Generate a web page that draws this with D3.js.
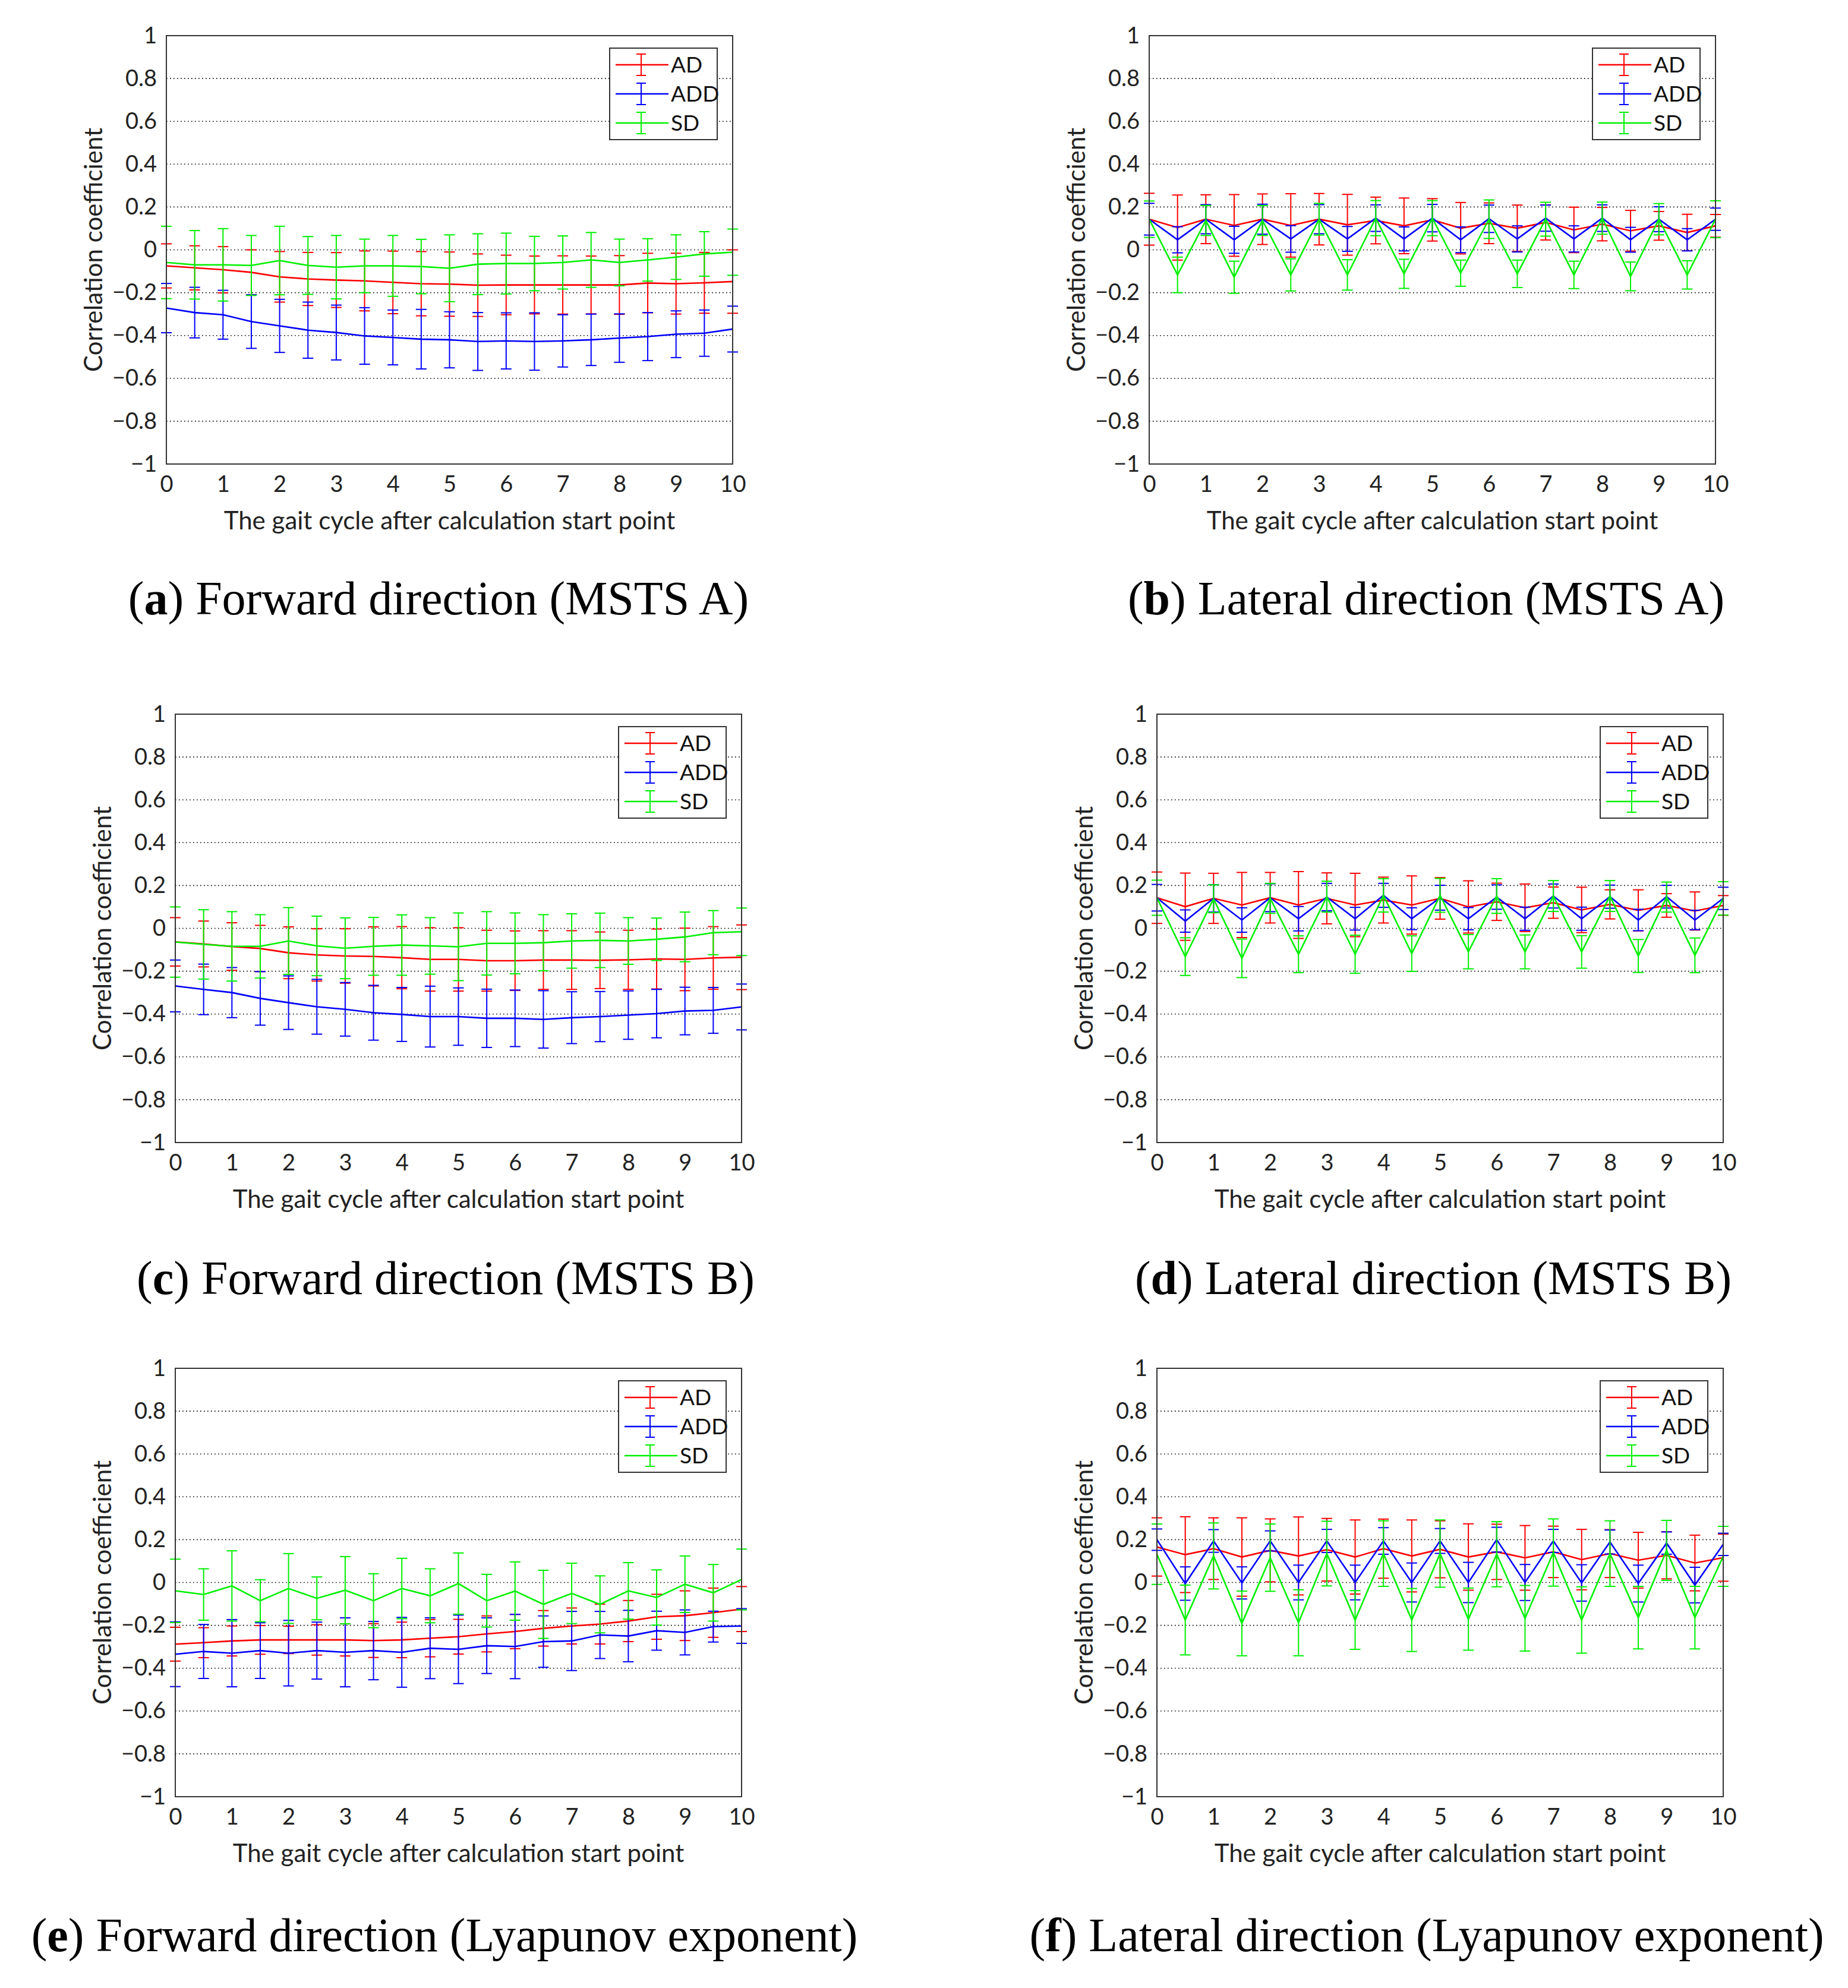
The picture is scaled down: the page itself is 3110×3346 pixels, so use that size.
<!DOCTYPE html>
<html><head><meta charset="utf-8">
<script src="https://cdn.jsdelivr.net/npm/d3@7"></script>
<style>body{margin:0;background:#fff}svg{display:block}</style>
</head><body>
<script>
const xVals = [0,0.5,1,1.5,2,2.5,3,3.5,4,4.5,5,5.5,6,6.5,7,7.5,8,8.5,9,9.5,10];
const xTicks = [0,1,2,3,4,5,6,7,8,9,10];
const yTicks = [-1,-0.8,-0.6,-0.4,-0.2,0,0.2,0.4,0.6,0.8,1];
const seriesNames = ["AD","ADD","SD"];
const seriesColors = ["#ff0000","#0000ff","#00f000"];
const xLabel = "The gait cycle after calculation start point";
const yLabel = "Correlation coefficient";

// Panel a
const aAD = [-0.075,-0.084,-0.093,-0.105,-0.126,-0.136,-0.141,-0.145,-0.152,-0.158,-0.16,-0.165,-0.164,-0.164,-0.164,-0.164,-0.164,-0.155,-0.158,-0.154,-0.148];
const aADerr = [0.103,0.103,0.108,0.105,0.118,0.124,0.128,0.14,0.146,0.15,0.15,0.146,0.139,0.135,0.136,0.135,0.137,0.139,0.142,0.142,0.148];
const aADD = [-0.272,-0.293,-0.303,-0.335,-0.355,-0.375,-0.386,-0.402,-0.409,-0.417,-0.42,-0.428,-0.425,-0.428,-0.425,-0.42,-0.412,-0.405,-0.394,-0.389,-0.37];
const aADDerr = [0.115,0.118,0.114,0.125,0.124,0.131,0.128,0.132,0.128,0.139,0.131,0.135,0.131,0.134,0.122,0.12,0.113,0.112,0.109,0.108,0.107];
const aSD = [-0.059,-0.07,-0.07,-0.073,-0.05,-0.073,-0.081,-0.075,-0.075,-0.078,-0.086,-0.067,-0.064,-0.064,-0.059,-0.047,-0.059,-0.047,-0.034,-0.019,-0.011];
const aSDerr = [0.169,0.16,0.169,0.14,0.16,0.135,0.148,0.125,0.142,0.127,0.156,0.142,0.142,0.127,0.124,0.128,0.109,0.099,0.104,0.104,0.108];

// Panel b
const bAD = [0.143,0.104,0.143,0.114,0.143,0.114,0.143,0.117,0.137,0.112,0.14,0.101,0.124,0.101,0.128,0.093,0.12,0.089,0.112,0.081,0.112];
const bADerr = [0.121,0.152,0.114,0.144,0.118,0.148,0.12,0.142,0.109,0.13,0.099,0.12,0.095,0.108,0.082,0.106,0.078,0.095,0.067,0.085,0.053];
const bADD = [0.143,0.047,0.143,0.047,0.143,0.051,0.143,0.051,0.148,0.051,0.148,0.047,0.145,0.051,0.148,0.051,0.148,0.047,0.143,0.047,0.143];
const bADDerr = [0.074,0.061,0.068,0.063,0.07,0.062,0.068,0.058,0.062,0.056,0.064,0.06,0.064,0.061,0.061,0.061,0.062,0.058,0.058,0.052,0.052];
const bSD = [0.143,-0.117,0.137,-0.128,0.137,-0.117,0.143,-0.117,0.148,-0.112,0.148,-0.109,0.143,-0.112,0.143,-0.117,0.148,-0.124,0.143,-0.117,0.143];
const bSDerr = [0.085,0.083,0.07,0.075,0.07,0.075,0.074,0.071,0.082,0.068,0.082,0.061,0.09,0.064,0.079,0.064,0.075,0.067,0.073,0.066,0.086];

// Panel c
const cAD = [-0.063,-0.073,-0.085,-0.094,-0.114,-0.124,-0.129,-0.131,-0.137,-0.145,-0.145,-0.151,-0.151,-0.148,-0.148,-0.149,-0.147,-0.143,-0.145,-0.138,-0.135];
const cADerr = [0.113,0.107,0.111,0.108,0.121,0.122,0.127,0.138,0.145,0.148,0.148,0.142,0.139,0.137,0.137,0.132,0.138,0.14,0.146,0.146,0.151];
const cADD = [-0.269,-0.285,-0.3,-0.327,-0.347,-0.366,-0.378,-0.394,-0.402,-0.412,-0.412,-0.42,-0.42,-0.425,-0.417,-0.412,-0.405,-0.398,-0.386,-0.383,-0.367];
const cADDerr = [0.121,0.118,0.117,0.125,0.125,0.128,0.125,0.128,0.126,0.142,0.134,0.136,0.132,0.134,0.121,0.117,0.113,0.113,0.111,0.107,0.107];
const cSD = [-0.064,-0.075,-0.084,-0.084,-0.059,-0.082,-0.093,-0.084,-0.078,-0.082,-0.086,-0.07,-0.07,-0.067,-0.059,-0.056,-0.059,-0.051,-0.04,-0.02,-0.016];
const cSDerr = [0.164,0.162,0.162,0.148,0.156,0.139,0.142,0.135,0.141,0.132,0.158,0.148,0.142,0.131,0.127,0.127,0.109,0.099,0.116,0.103,0.111];

// Panel d
const dAD = [0.143,0.101,0.14,0.109,0.143,0.109,0.14,0.109,0.132,0.109,0.14,0.1,0.124,0.096,0.12,0.086,0.112,0.084,0.107,0.081,0.107];
const dADerr = [0.12,0.157,0.117,0.152,0.118,0.156,0.119,0.148,0.107,0.136,0.097,0.122,0.087,0.111,0.073,0.106,0.068,0.096,0.055,0.089,0.046];
const dADD = [0.143,0.034,0.14,0.039,0.143,0.045,0.146,0.045,0.154,0.045,0.143,0.045,0.146,0.045,0.151,0.045,0.148,0.039,0.148,0.039,0.14];
const dADDerr = [0.062,0.052,0.064,0.057,0.065,0.057,0.064,0.053,0.056,0.051,0.058,0.052,0.057,0.054,0.056,0.054,0.054,0.05,0.053,0.045,0.052];
const dSD = [0.143,-0.132,0.138,-0.14,0.14,-0.121,0.148,-0.121,0.154,-0.118,0.154,-0.109,0.151,-0.11,0.151,-0.11,0.151,-0.129,0.146,-0.126,0.14];
const dSDerr = [0.082,0.088,0.065,0.09,0.07,0.086,0.072,0.089,0.078,0.083,0.079,0.08,0.081,0.079,0.072,0.076,0.072,0.077,0.07,0.081,0.078];

// Panel e
const eAD = [-0.288,-0.281,-0.273,-0.268,-0.268,-0.268,-0.268,-0.271,-0.268,-0.26,-0.253,-0.24,-0.229,-0.214,-0.203,-0.194,-0.18,-0.16,-0.155,-0.141,-0.124];
const eADerr = [0.079,0.07,0.07,0.067,0.064,0.071,0.075,0.079,0.083,0.087,0.081,0.084,0.08,0.083,0.084,0.093,0.096,0.105,0.116,0.115,0.105];
const eADD = [-0.335,-0.322,-0.33,-0.318,-0.33,-0.318,-0.326,-0.318,-0.326,-0.307,-0.312,-0.295,-0.299,-0.276,-0.273,-0.245,-0.25,-0.225,-0.233,-0.206,-0.203];
const eADDerr = [0.151,0.126,0.157,0.13,0.153,0.133,0.161,0.136,0.163,0.142,0.16,0.13,0.15,0.12,0.138,0.11,0.12,0.091,0.105,0.072,0.081];
const eSD = [-0.039,-0.056,-0.016,-0.085,-0.028,-0.074,-0.036,-0.085,-0.028,-0.062,-0.005,-0.085,-0.04,-0.102,-0.051,-0.102,-0.039,-0.07,-0.008,-0.048,0.014];
const eSDerr = [0.148,0.12,0.164,0.098,0.163,0.1,0.157,0.126,0.141,0.126,0.143,0.123,0.136,0.159,0.141,0.133,0.132,0.129,0.132,0.132,0.142];

// Panel f
const fAD = [0.166,0.13,0.158,0.119,0.15,0.124,0.153,0.119,0.158,0.124,0.155,0.119,0.143,0.115,0.143,0.107,0.135,0.104,0.127,0.091,0.116];
const fADerr = [0.136,0.177,0.144,0.183,0.147,0.182,0.146,0.173,0.138,0.168,0.133,0.155,0.129,0.151,0.12,0.141,0.112,0.13,0.11,0.13,0.11];
const fADD = [0.2,-0.005,0.194,-0.002,0.194,0,0.194,0,0.194,0,0.194,0,0.2,0,0.194,-0.002,0.189,-0.005,0.184,-0.012,0.178];
const fADDerr = [0.05,0.078,0.053,0.075,0.047,0.081,0.054,0.081,0.062,0.091,0.058,0.094,0.058,0.084,0.054,0.085,0.056,0.086,0.052,0.083,0.052];
const fSD = [0.132,-0.175,0.124,-0.191,0.116,-0.188,0.135,-0.175,0.135,-0.175,0.135,-0.171,0.132,-0.167,0.14,-0.175,0.135,-0.164,0.15,-0.164,0.122];
const fSDerr = [0.141,0.163,0.154,0.151,0.157,0.154,0.151,0.137,0.153,0.147,0.157,0.145,0.152,0.153,0.157,0.155,0.153,0.146,0.14,0.146,0.14];

const captionLetters = ["a","b","c","d","e","f"];
const captionTexts = ["Forward direction (MSTS A)","Lateral direction (MSTS A)","Forward direction (MSTS B)","Lateral direction (MSTS B)","Forward direction (Lyapunov exponent)","Lateral direction (Lyapunov exponent)"];

const panels = [
  {means:[aAD,aADD,aSD], errs:[aADerr,aADDerr,aSDerr], left:280, top:60, cap:[738,1034]},
  {means:[bAD,bADD,bSD], errs:[bADerr,bADDerr,bSDerr], left:1934, top:60, cap:[2400,1034]},
  {means:[cAD,cADD,cSD], errs:[cADerr,cADDerr,cSDerr], left:295, top:1202, cap:[750,2178]},
  {means:[dAD,dADD,dSD], errs:[dADerr,dADDerr,dSDerr], left:1947, top:1202, cap:[2412,2178]},
  {means:[eAD,eADD,eSD], errs:[eADerr,eADDerr,eSDerr], left:295, top:2303, cap:[748,3284]},
  {means:[fAD,fADD,fSD], errs:[fADerr,fADDerr,fSDerr], left:1947, top:2303, cap:[2401,3284]}
];

const W = 3110, H = 3346, PW = 953, PH = 721;
const sansFont = "Lato, 'Open Sans', sans-serif";
const svg = d3.select("body").append("svg").attr("width", W).attr("height", H)
  .style("background", "#fff");

const fmt = d => d3.format("~g")(d);

panels.forEach((p, pi) => {
  const g = svg.append("g").attr("transform", `translate(${p.left},${p.top})`);
  const x = d3.scaleLinear().domain([0, 10]).range([0, PW]);
  const y = d3.scaleLinear().domain([-1, 1]).range([PH, 0]);

  // gridlines
  g.append("g").selectAll("line").data(yTicks.filter(t => Math.abs(t) < 0.999)).join("line")
    .attr("x1", 0).attr("x2", PW).attr("y1", d => y(d)).attr("y2", d => y(d))
    .attr("stroke", "#000").attr("stroke-width", 1.6).attr("stroke-dasharray", "1.6,4.4");

  // axes (tick labels only)
  const ya = g.append("g").call(d3.axisLeft(y).tickValues(yTicks).tickSize(0).tickPadding(16).tickFormat(fmt));
  ya.select(".domain").remove();
  ya.selectAll("text").attr("font-family", sansFont).attr("font-size", 38).attr("fill", "#222");
  const xa = g.append("g").attr("transform", `translate(0,${PH})`)
    .call(d3.axisBottom(x).tickValues(xTicks).tickSize(0).tickPadding(20).tickFormat(fmt));
  xa.select(".domain").remove();
  xa.selectAll("text").attr("font-family", sansFont).attr("font-size", 38).attr("fill", "#222");

  // series
  const capW = 9;
  p.means.forEach((m, si) => {
    const col = seriesColors[si];
    const e = p.errs[si];
    const pts = xVals.map((xv, i) => ({x: xv, m: m[i], e: e[i]}));
    const line = d3.line().x(d => x(d.x)).y(d => y(d.m));
    g.append("path").datum(pts).attr("d", line).attr("fill", "none")
      .attr("stroke", col).attr("stroke-width", 2.6);
    const eg = g.append("g").attr("stroke", col).attr("stroke-width", 2);
    eg.selectAll("line.v").data(pts).join("line").attr("class", "v")
      .attr("x1", d => x(d.x)).attr("x2", d => x(d.x))
      .attr("y1", d => y(d.m + d.e)).attr("y2", d => y(d.m - d.e));
    eg.selectAll("line.t").data(pts).join("line").attr("class", "t")
      .attr("x1", d => x(d.x) - capW).attr("x2", d => x(d.x) + capW)
      .attr("y1", d => y(d.m + d.e)).attr("y2", d => y(d.m + d.e));
    eg.selectAll("line.b").data(pts).join("line").attr("class", "b")
      .attr("x1", d => x(d.x) - capW).attr("x2", d => x(d.x) + capW)
      .attr("y1", d => y(d.m - d.e)).attr("y2", d => y(d.m - d.e));
  });

  // frame
  g.append("rect").attr("x", 0).attr("y", 0).attr("width", PW).attr("height", PH)
    .attr("fill", "none").attr("stroke", "#333").attr("stroke-width", 2);

  // legend
  const lg = g.append("g").attr("transform", `translate(${PW - 207},21)`);
  lg.append("rect").attr("width", 181).attr("height", 154).attr("fill", "#fff")
    .attr("stroke", "#333").attr("stroke-width", 2);
  seriesNames.forEach((nm, si) => {
    const yy = 28 + si * 49;
    const col = seriesColors[si];
    lg.append("line").attr("x1", 10).attr("x2", 99).attr("y1", yy).attr("y2", yy)
      .attr("stroke", col).attr("stroke-width", 2.6);
    lg.append("line").attr("x1", 53).attr("x2", 53).attr("y1", yy - 18).attr("y2", yy + 18)
      .attr("stroke", col).attr("stroke-width", 2);
    [-18, 18].forEach(o => lg.append("line").attr("x1", 45).attr("x2", 61)
      .attr("y1", yy + o).attr("y2", yy + o).attr("stroke", col).attr("stroke-width", 2));
    lg.append("text").attr("x", 103).attr("y", yy).attr("dy", "0.36em")
      .attr("font-family", sansFont).attr("font-size", 37).attr("fill", "#111").text(nm);
  });

  // axis titles
  g.append("text").attr("x", PW / 2).attr("y", PH + 110).attr("text-anchor", "middle")
    .attr("font-family", sansFont).attr("font-size", 42).attr("fill", "#222").text(xLabel);
  g.append("text").attr("transform", `translate(-108,${PH / 2}) rotate(-90)`)
    .attr("text-anchor", "middle").attr("font-family", sansFont).attr("font-size", 42)
    .attr("fill", "#222").text(yLabel);

  // caption
  const ct = svg.append("text").attr("x", p.cap[0]).attr("y", p.cap[1]).attr("text-anchor", "middle")
    .attr("font-family", "'Liberation Serif', 'DejaVu Serif', serif").attr("font-size", 80).attr("fill", "#000");
  ct.append("tspan").text("(");
  ct.append("tspan").attr("font-weight", "bold").text(captionLetters[pi]);
  ct.append("tspan").text(") " + captionTexts[pi]);
});
</script>
</body></html>
